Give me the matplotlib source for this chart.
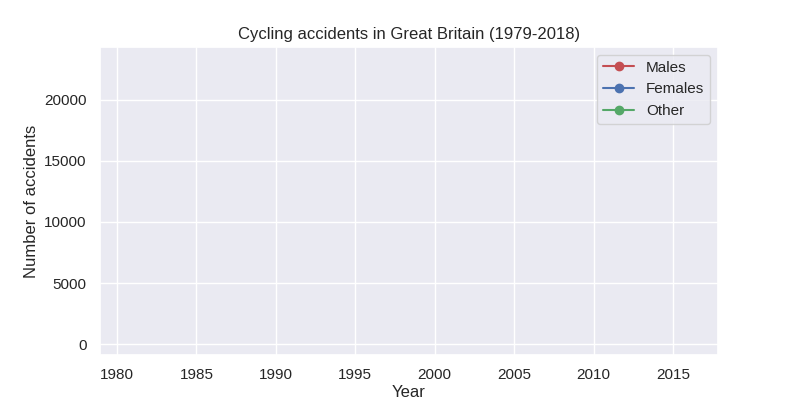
import matplotlib
matplotlib.use("Agg")
import matplotlib.pyplot as plt
import seaborn as sns

sns.set_theme()
plt.rcParams['font.family'] = ['Liberation Sans', 'DejaVu Sans']

years = []
males = []
females = []
other = []

fig = plt.figure(figsize=(8, 4), dpi=100)
ax = fig.add_axes([0.125, 0.1125, 0.7725, 0.77])
ax.plot(years, males, marker="o", color="#c44e52", label="Males")
ax.plot(years, females, marker="o", color="#4c72b0", label="Females")
ax.plot(years, other, marker="o", color="#55a868", label="Other")
ax.set_xlim(1978.93, 2017.83)
ax.set_ylim(-900, 24340)
ax.set_xticks([1980, 1985, 1990, 1995, 2000, 2005, 2010, 2015])
ax.set_yticks([0, 5000, 10000, 15000, 20000])
ax.set_title("Cycling accidents in Great Britain (1979-2018)")
ax.set_xlabel("Year", labelpad=2)
ax.set_ylabel("Number of accidents")
ax.legend(loc="upper right")
fig.savefig("out.png")
